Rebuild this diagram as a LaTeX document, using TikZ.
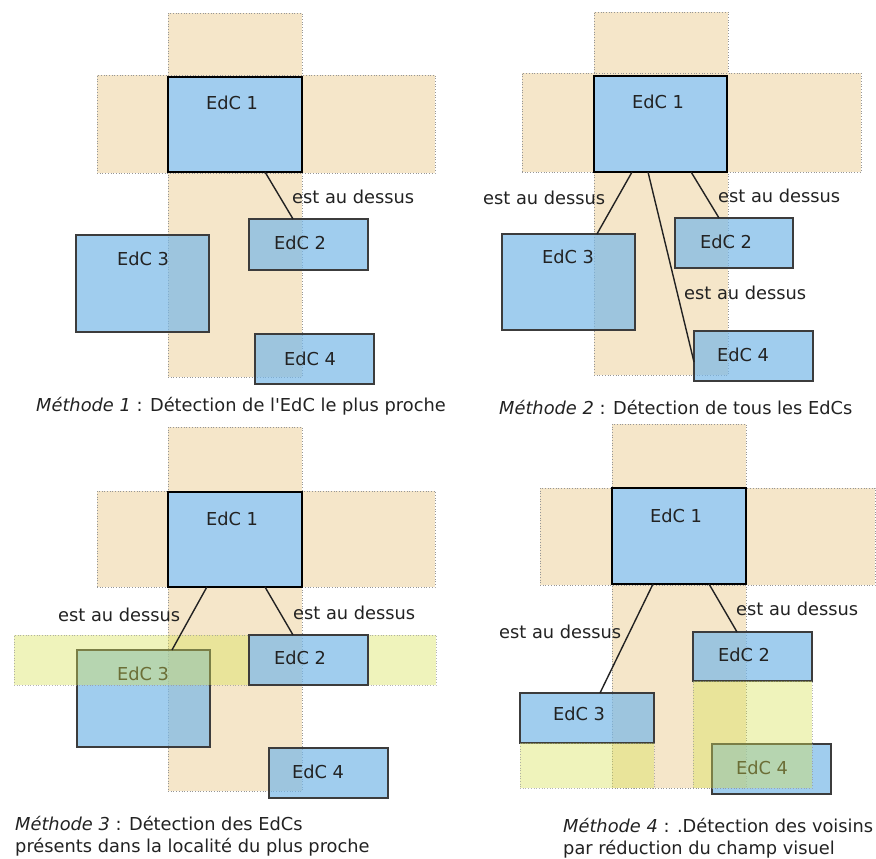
\documentclass[tikz,border=0pt]{standalone}
\usepackage{fontspec}
\setmainfont{DejaVu Sans}
\usetikzlibrary{calc}

\definecolor{bandfill}{RGB}{245,230,201}
\definecolor{bandline}{RGB}{150,150,150}
\definecolor{boxfill}{RGB}{121,184,232}
\definecolor{topfill}{RGB}{161,205,239}
\definecolor{boxline}{RGB}{60,60,60}
\definecolor{zonefill}{RGB}{217,225,85}
\definecolor{inkcol}{RGB}{34,34,34}

\newcommand\edcfont{\fontsize{17.8}{22}\selectfont}
% rectangular region given by its corners (x1,y1) and (x2,y2)
\newcommand\zone[6]{\node[#2, minimum width={(#5-#3)*1pt}, minimum height={(#6-#4)*1pt}] (#1) at (#3,#4) {};}

\tikzset{
  region/.style={rectangle, anchor=north west, inner sep=0pt, outer sep=0pt},
  band/.style={region, fill=bandfill, draw=bandline, dotted, line width=0.7pt},
  locality/.style={region, fill=zonefill, fill opacity=0.4, draw=bandline, draw opacity=0.7, dotted, line width=0.7pt},
  mainbox/.style={region, fill=topfill, draw=black, line width=1.6pt},
  objbox/.style={region, fill=boxfill, fill opacity=0.7, draw=boxline, line width=1.4pt},
  tag/.style={text=inkcol, inner sep=0pt, font=\edcfont},
  rel/.style={tag, anchor=west},
  caption/.style={tag, anchor=west, align=left},
  link/.style={draw=inkcol, line width=1.4pt},
}

\begin{document}
\begin{tikzpicture}[x=1pt, y=-1pt]
\useasboundingbox (0,0) rectangle (876,859);
\fill[white] (0,0) rectangle (876,859);

% ---------- Méthode 1 ----------
\zone{p1v}{band}{168}{13}{302}{377}
\zone{p1h}{band}{97}{75}{435}{173}
\zone{p1e3}{objbox}{76}{235}{209}{332}
\zone{p1e2}{objbox}{249}{219}{368}{270}
\zone{p1e4}{objbox}{255}{334}{374}{384}
\zone{p1e1}{mainbox}{168}{77}{302}{172}
\node[tag] (p1t1) at (232,103) {EdC 1};
\node[tag] (p1t2) at (300,243) {EdC 2};
\node[tag] (p1t3) at (143,259) {EdC 3};
\node[tag] (p1t4) at (310,359) {EdC 4};
\draw[link] ($(p1e1.south west)!0.724!(p1e1.south east)$) -- ($(p1e2.north west)!0.37!(p1e2.north east)$);
\node[rel] (p1r2) at (292,197) {est au dessus};
\node[caption] (p1cap) at (36,406) {\textit{Méthode 1} : Détection de l\textquotesingle EdC le plus proche};

% ---------- Méthode 2 ----------
\zone{p2v}{band}{594}{12}{728}{375}
\zone{p2h}{band}{522}{73}{861}{172}
\zone{p2e3}{objbox}{502}{234}{635}{330}
\zone{p2e2}{objbox}{675}{218}{793}{268}
\zone{p2e4}{objbox}{694}{331}{813}{381}
\zone{p2e1}{mainbox}{594}{76}{727}{172}
\node[tag] (p2t1) at (658,102) {EdC 1};
\node[tag] (p2t2) at (726,242) {EdC 2};
\node[tag] (p2t3) at (568,257) {EdC 3};
\node[tag] (p2t4) at (743,355) {EdC 4};
\draw[link] ($(p2e1.south west)!0.286!(p2e1.south east)$) -- ($(p2e3.north west)!0.714!(p2e3.north east)$);
\draw[link] ($(p2e1.south west)!0.406!(p2e1.south east)$) -- ($(p2e4.north west)!0.62!(p2e4.south west)$);
\draw[link] ($(p2e1.south west)!0.73!(p2e1.south east)$) -- ($(p2e2.north west)!0.373!(p2e2.north east)$);
\node[rel] (p2r3) at (483,198) {est au dessus};
\node[rel] (p2r2) at (718,196) {est au dessus};
\node[rel] (p2r4) at (684,293) {est au dessus};
\node[caption] (p2cap) at (499,408) {\textit{Méthode 2} : Détection de tous les EdCs};

% ---------- Méthode 3 ----------
\zone{p3v}{band}{168}{427}{302}{791}
\zone{p3h}{band}{97}{491}{435}{587}
\zone{p3e3}{objbox}{77}{650}{210}{747}
\zone{p3e4}{objbox}{269}{748}{388}{798}
\zone{p3e1}{mainbox}{168}{492}{302}{587}
\node[tag] (p3t1) at (232,519) {EdC 1};
\node[tag] (p3t3) at (143,674) {EdC 3};
\node[tag] (p3t4) at (318,772) {EdC 4};
% locality of the nearest neighbour
\zone{p3yl}{locality}{14}{635}{249}{685}
\zone{p3yr}{locality}{368}{635}{436}{685}
\zone{p3e2}{objbox}{249}{635}{368}{685}
\node[tag] (p3t2) at (300,658) {EdC 2};
\draw[link] ($(p3e1.south west)!0.29!(p3e1.south east)$) -- ($(p3e3.north west)!0.714!(p3e3.north east)$);
\draw[link] ($(p3e1.south west)!0.724!(p3e1.south east)$) -- ($(p3e2.north west)!0.37!(p3e2.north east)$);
\node[rel] (p3r3) at (58,615) {est au dessus};
\node[rel] (p3r2) at (293,613) {est au dessus};
\node[caption] (p3cap) at (15,836) {\textit{Méthode 3} : Détection des EdCs\\présents dans la localité du plus proche};

% ---------- Méthode 4 ----------
\zone{p4v}{band}{612}{424}{746}{788}
\zone{p4h}{band}{540}{488}{875}{585}
\zone{p4e2}{objbox}{693}{632}{812}{681}
\zone{p4e3}{objbox}{520}{693}{654}{743}
\zone{p4e4}{objbox}{712}{744}{831}{794}
\zone{p4e1}{mainbox}{612}{488}{746}{584}
\node[tag] (p4t1) at (676,516) {EdC 1};
\node[tag] (p4t2) at (744,655) {EdC 2};
\node[tag] (p4t3) at (579,714) {EdC 3};
\node[tag] (p4t4) at (762,768) {EdC 4};
% reduced visual fields below each neighbour
\zone{p4y2}{locality}{693}{681}{812}{788}
\zone{p4y3}{locality}{520}{743}{654}{788}
\draw[link] ($(p4e1.south west)!0.306!(p4e1.south east)$) -- ($(p4e3.north west)!0.597!(p4e3.north east)$);
\draw[link] ($(p4e1.south west)!0.724!(p4e1.south east)$) -- ($(p4e2.north west)!0.37!(p4e2.north east)$);
\node[rel] (p4r3) at (499,632) {est au dessus};
\node[rel] (p4r2) at (736,609) {est au dessus};
\node[caption] (p4cap) at (563,838) {\textit{Méthode 4} : .Détection des voisins\\par réduction du champ visuel};
\end{tikzpicture}
\end{document}
